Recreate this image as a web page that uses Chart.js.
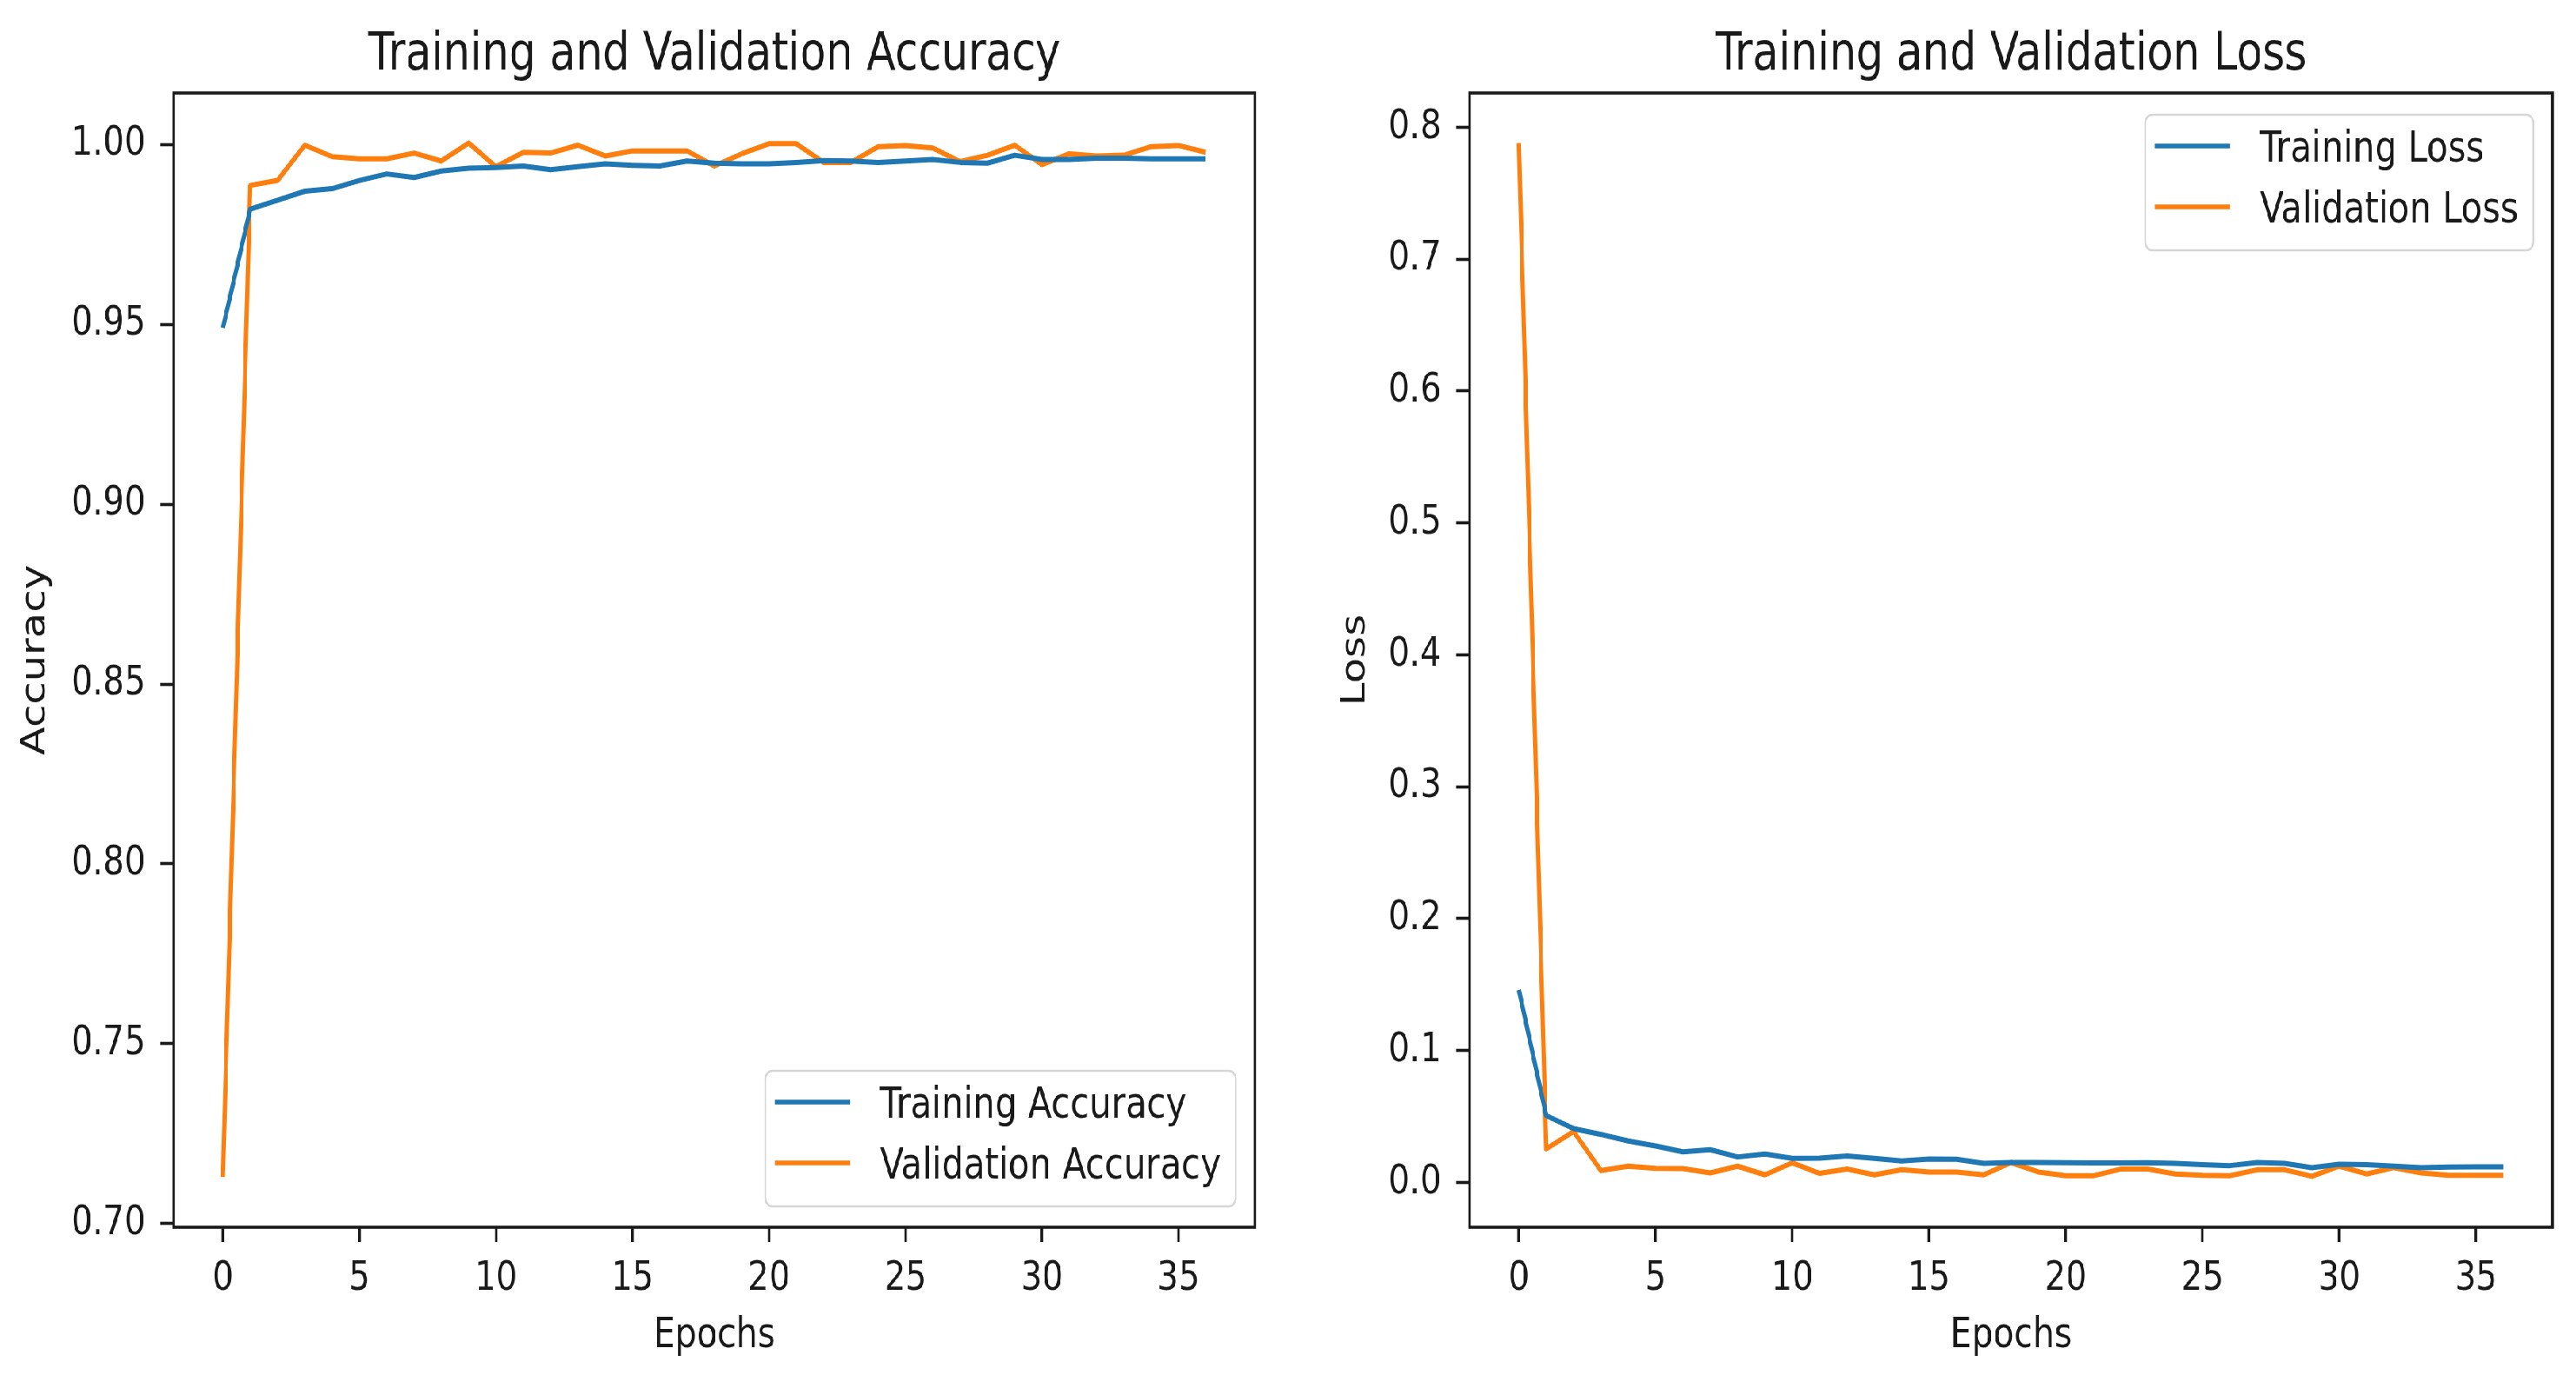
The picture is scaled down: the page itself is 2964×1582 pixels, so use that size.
<!DOCTYPE html>
<html>
<head>
<meta charset="utf-8">
<script src="https://cdn.jsdelivr.net/npm/chart.js@4.4.1/dist/chart.umd.min.js"></script>
<style>
  html, body { margin: 0; padding: 0; background: #fff; overflow: hidden; }
  /* the source picture is squeezed horizontally, so draw wide and squeeze */
  #wrap { position: absolute; left: 0; top: 0; width: 3636px; height: 1582px;
          transform-origin: 0 0; transform: scaleX(0.81518); }
  #wrap canvas { position: absolute; top: 0; }
</style>
</head>
<body>
<div id="wrap">
  <canvas id="acc" width="1818" height="1582" style="left:0;width:1818px;height:1582px"></canvas>
  <canvas id="loss" width="1818" height="1582" style="left:1818px;width:1818px;height:1582px"></canvas>
</div>
<script>
const epochs = [0, 1, 2, 3, 4, 5, 6, 7, 8, 9, 10, 11, 12, 13, 14, 15, 16, 17, 18,
                19, 20, 21, 22, 23, 24, 25, 26, 27, 28, 29, 30, 31, 32, 33, 34, 35, 36];

const trainAcc = [0.949, 0.982, 0.9845, 0.987, 0.9877, 0.990, 0.9918, 0.9908, 0.9926, 0.9934,
                  0.9936, 0.9940, 0.9930, 0.9938, 0.9946, 0.9942, 0.9940, 0.9954, 0.9948, 0.9946,
                  0.9946, 0.9950, 0.9955, 0.9954, 0.9950, 0.9954, 0.9958, 0.9950, 0.9948, 0.9970,
                  0.9958, 0.9958, 0.9962, 0.9962, 0.9960, 0.9960, 0.9960];
const valAcc = [0.713, 0.9886, 0.990, 0.9998, 0.9966, 0.996, 0.996, 0.9976, 0.9954, 1.0004,
                0.9938, 0.9978, 0.9976, 0.9998, 0.9968, 0.9982, 0.9982, 0.9982, 0.994, 0.9974,
                1.0002, 1.0002, 0.995, 0.995, 0.9994, 0.9997, 0.999, 0.9952, 0.997, 0.9998,
                0.9944, 0.9974, 0.9968, 0.997, 0.9994, 0.9997, 0.9978];

const trainLoss = [0.146, 0.0507, 0.0408, 0.0364, 0.0314, 0.0276, 0.0232, 0.0248, 0.0193, 0.0215,
                   0.0182, 0.0184, 0.0200, 0.0182, 0.0162, 0.0178, 0.0175, 0.0145, 0.0151, 0.0151,
                   0.0149, 0.0147, 0.0147, 0.0149, 0.0145, 0.0134, 0.0127, 0.0151, 0.0145, 0.0112,
                   0.0138, 0.0134, 0.0123, 0.0112, 0.0116, 0.0118, 0.0118];
const valLoss = [0.788, 0.0254, 0.0386, 0.0090, 0.0123, 0.0107, 0.0105, 0.0072, 0.0123, 0.0057,
                 0.0149, 0.0068, 0.0101, 0.0057, 0.0096, 0.0079, 0.0079, 0.0057, 0.0151, 0.0079,
                 0.0050, 0.0050, 0.0101, 0.0101, 0.0064, 0.0053, 0.0050, 0.0096, 0.0096, 0.0046,
                 0.0123, 0.0064, 0.0112, 0.0072, 0.0053, 0.0053, 0.0053];

const xTicks = [0, 5, 10, 15, 20, 25, 30, 35];
const accTicks = [0.70, 0.75, 0.80, 0.85, 0.90, 0.95, 1.00];
const lossTicks = [0.0, 0.1, 0.2, 0.3, 0.4, 0.5, 0.6, 0.7, 0.8];

const BLUE = '#1f77b4';
const ORANGE = '#ff7f0e';
const INK = '#1a1a1a';

Chart.defaults.font.family = "'DejaVu Sans', sans-serif";
Chart.defaults.color = INK;
Chart.defaults.animation = false;

// axes frame + matplotlib style legend box
const frameLegend = {
  id: 'frameLegend',
  afterDatasetsDraw(chart, args, opts) {
    const { ctx, chartArea: a } = chart;
    ctx.save();
    ctx.strokeStyle = INK;
    ctx.lineWidth = 3.6;
    ctx.strokeRect(a.left, a.top, a.right - a.left, a.bottom - a.top);

    ctx.font = "49px 'DejaVu Sans'";
    const sets = chart.data.datasets;
    const textW = Math.max(...sets.map(d => ctx.measureText(d.label).width));
    const w = 162 + textW + 21, h = 156;
    const x = a.right - 27 - w;
    const y = opts.where === 'top' ? a.top + 25 : a.bottom - 24 - h;
    ctx.beginPath();
    ctx.roundRect(x, y, w, h, 10);
    ctx.fillStyle = 'rgba(255,255,255,0.8)';
    ctx.fill();
    ctx.strokeStyle = '#d6d6d6';
    ctx.lineWidth = 2.5;
    ctx.stroke();
    sets.forEach((d, i) => {
      const cy = y + 36 + i * 70;
      ctx.strokeStyle = d.borderColor;
      ctx.lineWidth = 5.5;
      ctx.beginPath();
      ctx.moveTo(x + 13.5, cy);
      ctx.lineTo(x + 120, cy);
      ctx.stroke();
      ctx.fillStyle = INK;
      ctx.textBaseline = 'middle';
      ctx.textAlign = 'left';
      ctx.fillText(d.label, x + 162, cy + 5);
    });
    ctx.restore();
  }
};

function series(label, ys, color) {
  return {
    label: label,
    data: epochs.map((e, i) => ({ x: e, y: ys[i] })),
    borderColor: color,
    backgroundColor: color,
    borderWidth: 6,
    borderJoinStyle: 'round',
    pointRadius: 0,
    tension: 0
  };
}

function makeChart(id, cfg) {
  return new Chart(document.getElementById(id), {
    type: 'line',
    data: { datasets: cfg.datasets },
    plugins: [frameLegend],
    options: {
      responsive: false,
      layout: { padding: { left: 0, right: cfg.padRight, top: 0, bottom: 0 } },
      plugins: {
        legend: { display: false },
        tooltip: { enabled: false },
        title: {
          display: true, text: cfg.title, fullSize: false, color: INK,
          font: { size: 60, weight: 'normal' },
          padding: { top: 28, bottom: 7 }
        },
        frameLegend: { where: cfg.legendAt }
      },
      scales: {
        x: {
          type: 'linear', min: -1.8, max: 37.8,
          afterBuildTicks: s => { s.ticks = xTicks.map(v => ({ value: v })); },
          afterFit: s => { s.height = 170; },
          border: { display: false },
          grid: { display: true, drawOnChartArea: false, drawTicks: true,
                  tickLength: 17, tickWidth: 3.6, tickColor: INK },
          ticks: { font: { size: 47 }, padding: 15, maxRotation: 0, autoSkip: false,
                   callback: v => String(v) },
          title: { display: true, text: 'Epochs', font: { size: 48 },
                   padding: { top: 0, bottom: 16 } }
        },
        y: {
          type: 'linear', min: cfg.yMin, max: cfg.yMax,
          afterBuildTicks: s => { s.ticks = cfg.yTicks.map(v => ({ value: v })); },
          afterFit: s => { s.width = cfg.yWidth; },
          border: { display: false },
          grid: { display: true, drawOnChartArea: false, drawTicks: true,
                  tickLength: 19, tickWidth: 3.6, tickColor: INK },
          ticks: { font: { size: 47 }, padding: 21, autoSkip: false,
                   callback: v => v.toFixed(cfg.digits) },
          title: { display: true, text: cfg.yTitle, font: { size: 48 },
                   padding: { top: cfg.yTitlePad, bottom: 0 } }
        }
      }
    }
  });
}

makeChart('acc', {
  title: 'Training and Validation Accuracy',
  datasets: [series('Training Accuracy', trainAcc, BLUE),
             series('Validation Accuracy', valAcc, ORANGE)],
  yMin: 0.699, yMax: 1.0143, yTicks: accTicks, digits: 2,
  yTitle: 'Accuracy', yTitlePad: 22, yWidth: 245.3, padRight: 46.6,
  legendAt: 'bottom'
});

makeChart('loss', {
  title: 'Training and Validation Loss',
  datasets: [series('Training Loss', trainLoss, BLUE),
             series('Validation Loss', valLoss, ORANGE)],
  yMin: -0.034, yMax: 0.826, yTicks: lossTicks, digits: 1,
  yTitle: 'Loss', yTitlePad: 67, yWidth: 256.4, padRight: 33.1,
  legendAt: 'top'
});
</script>
</body>
</html>
